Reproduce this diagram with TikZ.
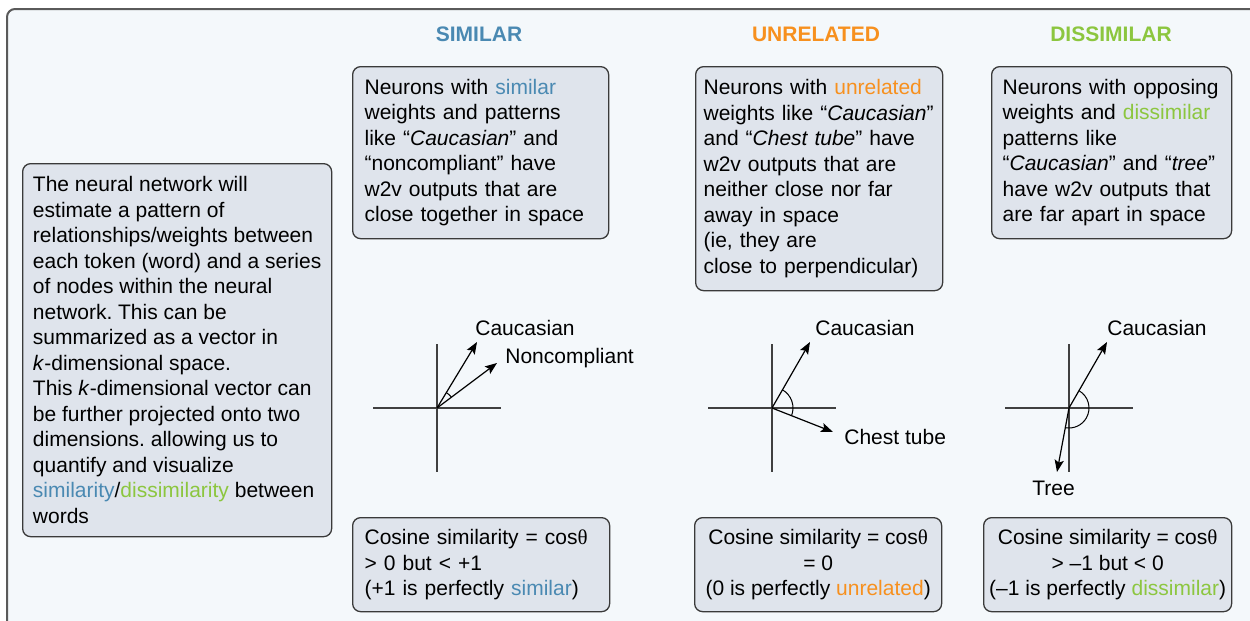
\documentclass[tikz,border=0pt]{standalone}
\usepackage{fontspec}
\setmainfont{Liberation Sans}
\newfontfamily\thetafont{Liberation Serif}
\usetikzlibrary{arrows.meta}
\definecolor{simblue}{HTML}{4A89B2}
\definecolor{unorange}{HTML}{F7901E}
\definecolor{disgreen}{HTML}{8CC63F}
\definecolor{bgblue}{HTML}{F4F8FB}
\definecolor{boxfill}{HTML}{DFE4EC}
\definecolor{framegray}{HTML}{5A5A5A}
\definecolor{boxline}{HTML}{3A3A3A}
\newcommand{\thet}{{\thetafont θ}}
\newcommand{\sm}[1]{\textcolor{simblue}{#1}}
\newcommand{\un}[1]{\textcolor{unorange}{#1}}
\newcommand{\ds}[1]{\textcolor{disgreen}{#1}}
\frenchspacing
\begin{document}
\begin{tikzpicture}[x=0.5pt,y=-0.5pt,
  txt/.style={font=\fontsize{10.5pt}{12.75pt}\selectfont},
  infobox/.style={txt, draw=boxline, line width=0.65pt, fill=boxfill, rounded corners=4pt,
    anchor=north west, inner ysep=0pt},
  head/.style={font=\fontsize{10.5pt}{12.75pt}\selectfont\bfseries, inner sep=0pt},
  axisline/.style={draw=black!75, line width=0.75pt},
  vec/.style={draw=black, line width=0.6pt, -{Stealth[length=6pt,width=4.6pt,inset=1.2pt]}},
  angarc/.style={draw=black, line width=0.5pt},
  lbl/.style={txt, anchor=west, inner sep=0pt}]
\clip (0,0) rectangle (1250,621);
\fill[white] (0,0) rectangle (1250,621);
\draw[draw=framegray, line width=1pt, fill=bgblue, rounded corners=4pt] (7,9) rectangle (1275,650);

% headers
\node[head, text=simblue] (hsim) at (479,34) {SIMILAR};
\node[head, text=unorange] (hun) at (816,34) {UNRELATED};
\node[head, text=disgreen] (hdis) at (1111,34) {DISSIMILAR};

% left box
\node[infobox, inner xsep=2pt, minimum width=154.5pt, minimum height=186.5pt, align=left] (left) at (22,163) {The neural network will\\
estimate a pattern of\\
relationships/weights between\\
each token (word) and a series\\
of nodes within the neural\\
network. This can be\\
summarized as a vector in\\
\textit{k}-dimensional space.\\
This \textit{k}-dimensional vector can\\
be further projected onto two\\
dimensions. allowing us to\\
quantify and visualize\\
\sm{similarity}/\ds{dissimilarity} between\\
words};

% top boxes
\node[infobox, inner xsep=6pt, text width=116pt, minimum height=86pt, align=left] (tsim) at (352,66) {Neurons with \sm{similar}\\
weights and patterns\\
like “\textit{Caucasian}” and\\
“noncompliant” have\\
w2v outputs that are\\
close together in space};

\node[infobox, inner xsep=4pt, text width=115.5pt, minimum height=112pt, align=left] (tun) at (695,66) {Neurons with \un{unrelated}\\
weights like “\textit{Caucasian}”\\
and “\textit{Chest tube}” have\\
w2v outputs that are\\
neither close nor far\\
away in space\\
(ie, they are\\
close to perpendicular)};

\node[infobox, inner xsep=5.5pt, text width=109pt, minimum height=86pt, align=left] (tdis) at (991,66) {Neurons with opposing\\
weights and \ds{dissimilar}\\
patterns like\\
“\textit{Caucasian}” and “\textit{tree}”\\
have w2v outputs that\\
are far apart in space};

% bottom boxes
\node[infobox, inner xsep=6pt, text width=116.5pt, minimum height=47pt, align=left] (bsim) at (352,517) {Cosine similarity = cos\thet\\
> 0 but < +1\\
(+1 is perfectly \sm{similar})};

\node[infobox, inner xsep=2pt, minimum width=123.5pt, minimum height=47pt, align=center] (bun) at (694,517) {Cosine similarity = cos\thet\\
= 0\\
(0 is perfectly \un{unrelated})};

\node[infobox, inner xsep=2pt, minimum width=124pt, minimum height=47pt, align=center] (bdis) at (983,517) {Cosine similarity = cos\thet\\
> –1 but < 0\\
(–1 is perfectly \ds{dissimilar})};

% ---- similar diagram
\coordinate (o1) at (437,408);
\coordinate (o1l) at (373,408);
\coordinate (o1r) at (501,408);
\coordinate (o1t) at (437,344);
\coordinate (o1b) at (437,472);
\coordinate (c1) at (477,342);
\coordinate (n1) at (497,363);
\draw[axisline] (o1l) -- (o1r);
\draw[axisline] (o1t) -- (o1b);
\draw[vec] (o1) -- (c1);
\draw[vec] (o1) -- (n1);
\draw[angarc] ([shift={(-36.9:18)}]o1) arc[start angle=-36.9, end angle=-58.8, radius=18];
\node[lbl] (lc1) at (475,328) {Caucasian};
\node[lbl] (ln1) at (505,358) {Noncompliant};

% ---- unrelated diagram
\coordinate (o2) at (772,408);
\coordinate (o2l) at (708,408);
\coordinate (o2r) at (836,408);
\coordinate (o2t) at (772,344);
\coordinate (o2b) at (772,472);
\coordinate (c2) at (810,342);
\coordinate (ct2) at (833,432);
\draw[axisline] (o2l) -- (o2r);
\draw[axisline] (o2t) -- (o2b);
\draw[vec] (o2) -- (c2);
\draw[vec] (o2) -- (ct2);
\draw[angarc] ([shift={(-60:21)}]o2) arc[start angle=-60, end angle=21.5, radius=21];
\node[lbl] (lc2) at (815,328) {Caucasian};
\node[lbl] (lct2) at (844,437) {Chest tube};

% ---- dissimilar diagram
\coordinate (o3) at (1069,408);
\coordinate (o3l) at (1005,408);
\coordinate (o3r) at (1133,408);
\coordinate (o3t) at (1069,344);
\coordinate (o3b) at (1069,472);
\coordinate (c3) at (1107,342);
\coordinate (t3) at (1057,472);
\draw[axisline] (o3l) -- (o3r);
\draw[axisline] (o3t) -- (o3b);
\draw[vec] (o3) -- (c3);
\draw[vec] (o3) -- (t3);
\draw[angarc] ([shift={(-60:20)}]o3) arc[start angle=-60, end angle=100.6, radius=20];
\node[lbl] (lc3) at (1107,328) {Caucasian};
\node[lbl] (lt3) at (1032,488) {Tree};
\end{tikzpicture}
\end{document}
